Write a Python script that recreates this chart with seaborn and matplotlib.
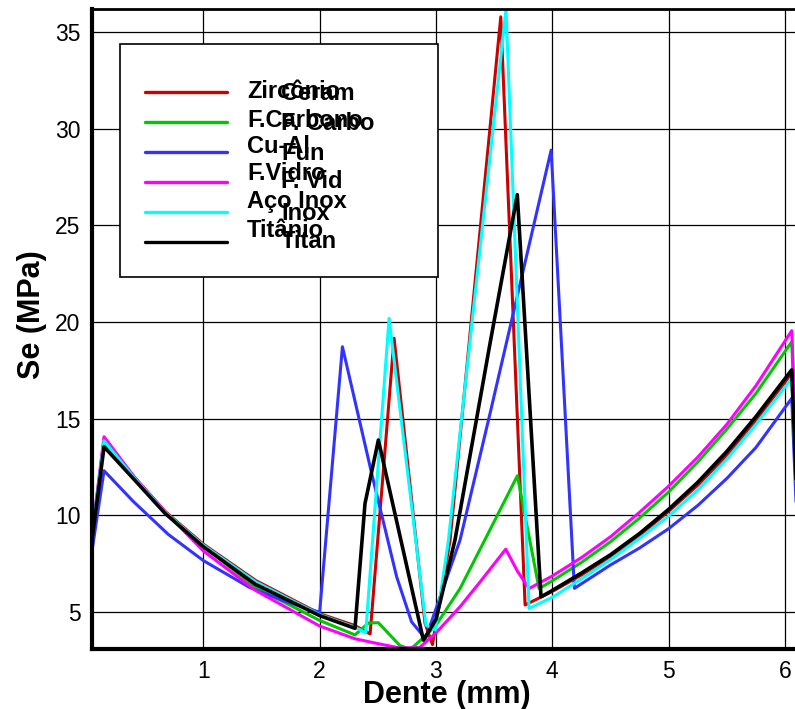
import matplotlib
matplotlib.use("Agg")
import matplotlib.pyplot as plt
from matplotlib.lines import Line2D
from matplotlib.patches import Rectangle
from matplotlib.ticker import MultipleLocator
import seaborn as sns
import pandas as pd

# ---------------- data ----------------
materials = ["Zircônio", "F.Carbono", "Cu-Al", "F.Vidro", "Aço Inox", "Titânio"]
overlay_labels = ["Ceram", "F. Carbo", "Fun", "F. Vid", "Inox", "Titan"]
colors = ["#cc0000", "#00c800", "#3333ff", "#ff00ff", "#00ffff", "#000000"]

x_zr = [0.04, 0.147, 0.41, 0.67, 1.0, 1.45, 2.0, 2.304, 2.434, 2.64, 2.906, 2.97,
        3.121, 3.557, 3.766, 3.9, 4.0, 4.25, 4.5, 4.75, 5.0, 5.25, 5.5, 5.75, 6.058, 6.1]
y_zr = [8.7, 13.9, 11.95, 10.2, 8.5, 6.62, 4.9, 4.28, 3.85, 19.16, 4.4, 3.3,
        8.7, 35.8, 5.35, 5.75, 6.05, 6.9, 7.85, 8.95, 10.2, 11.55, 13.1, 14.9, 17.35, 11.0]

x_cf = [0.04, 0.147, 0.41, 0.67, 1.0, 1.45, 2.0, 2.304, 2.42, 2.505, 2.69, 2.78,
        2.9, 3.0, 3.207, 3.465, 3.70, 3.886, 4.0, 4.25, 4.5, 4.75, 5.0, 5.25, 5.5,
        5.75, 6.058, 6.1]
y_cf = [8.7, 13.75, 11.9, 10.15, 8.4, 6.25, 4.55, 3.8, 4.42, 4.43, 3.25, 3.05,
        3.7, 4.3, 6.2, 9.25, 12.04, 6.2, 6.6, 7.55, 8.62, 9.85, 11.2, 12.75, 14.45,
        16.3, 18.98, 12.5]

x_cu = [0.04, 0.147, 0.4, 0.7, 1.0, 1.4, 1.7, 2.0, 2.196, 2.447, 2.662, 2.79,
        2.91, 3.207, 3.465, 3.99, 4.19, 4.5, 4.75, 5.0, 5.25, 5.5, 5.75, 6.058, 6.1]
y_cu = [8.0, 12.3, 10.7, 9.0, 7.65, 6.25, 5.55, 4.97, 18.72, 12.17, 6.81, 4.48,
        3.6, 8.71, 15.27, 28.9, 6.21, 7.42, 8.3, 9.3, 10.5, 11.9, 13.5, 16.05, 9.9]

x_fv = [0.04, 0.147, 0.41, 0.7, 1.0, 1.45, 2.0, 2.304, 2.5, 2.69, 2.86, 3.0,
        3.207, 3.38, 3.60, 3.70, 3.80, 4.0, 4.25, 4.5, 4.75, 5.0, 5.25, 5.5, 5.75,
        6.058, 6.1]
y_fv = [8.8, 14.06, 11.95, 10.0, 8.15, 6.1, 4.26, 3.6, 3.35, 3.12, 3.15, 3.9,
        5.26, 6.55, 8.24, 7.1, 6.2, 6.85, 7.8, 8.88, 10.15, 11.5, 13.0, 14.7, 16.7,
        19.55, 13.0]

x_ai = [0.04, 0.147, 0.41, 0.67, 1.0, 1.45, 2.0, 2.304, 2.396, 2.597, 2.914, 2.995,
        3.107, 3.602, 3.80, 4.0, 4.25, 4.5, 4.75, 5.0, 5.25, 5.5, 5.75, 6.058, 6.1]
y_ai = [8.7, 13.85, 11.9, 10.15, 8.45, 6.55, 4.85, 4.2, 3.9, 20.19, 4.3, 4.05,
        8.7, 36.2, 5.17, 5.75, 6.7, 7.7, 8.8, 9.95, 11.3, 12.9, 14.7, 17.08, 11.0]

x_ti = [0.04, 0.147, 0.41, 0.67, 1.0, 1.445, 2.0, 2.304, 2.39, 2.505, 2.892, 3.0,
        3.163, 3.465, 3.699, 3.903, 4.0, 4.25, 4.5, 4.75, 5.0, 5.25, 5.5, 5.75,
        6.058, 6.1]
y_ti = [8.55, 13.54, 11.82, 10.1, 8.37, 6.43, 4.8, 4.14, 10.6, 13.89, 3.53, 4.6,
        8.7, 18.9, 26.59, 5.77, 6.1, 7.0, 7.95, 9.05, 10.3, 11.7, 13.3, 15.1,
        17.52, 11.0]

x_ticks = [1, 2, 3, 4, 5, 6]
y_ticks = [5, 10, 15, 20, 25, 30, 35]

series_x = [x_zr, x_cf, x_cu, x_fv, x_ai, x_ti]
series_y = [y_zr, y_cf, y_cu, y_fv, y_ai, y_ti]

# ---------------- style ----------------
sns.set_style("white")
plt.rcParams["font.family"] = ["Liberation Sans", "DejaVu Sans"]
plt.rcParams["text.color"] = "black"
plt.rcParams["axes.labelcolor"] = "black"
plt.rcParams["xtick.color"] = "black"
plt.rcParams["ytick.color"] = "black"

fig = plt.figure(figsize=(7.95, 7.09), dpi=100)
ax = fig.add_axes([0.11535, 0.08463, 0.88465, 0.90226])

widths = [2.2, 2.2, 2.2, 2.2, 2.2, 2.6]
for name, xs, ys, c, lw in zip(materials, series_x, series_y, colors, widths):
    df = pd.DataFrame({"Dente": xs, "Se": ys})
    sns.lineplot(data=df, x="Dente", y="Se", sort=False, estimator=None,
                 color=c, linewidth=lw, ax=ax, legend=False)

ax.set_xlim(0.041, 6.086)
ax.set_ylim(3.07, 36.19)
ax.set_xticks(x_ticks)
ax.set_yticks(y_ticks)
ax.xaxis.set_minor_locator(MultipleLocator(0.2))
ax.yaxis.set_minor_locator(MultipleLocator(1))
ax.grid(True, which="major", color="black", linewidth=0.9)
ax.set_axisbelow(True)

ax.tick_params(which="major", direction="in", length=13, width=2.0,
               labelsize=16.5, pad=8, colors="black", labelcolor="black",
               top=False, right=False)
ax.tick_params(which="minor", direction="in", length=7, width=1.0,
               colors="black", top=False, right=False)

for side in ["left", "bottom"]:
    ax.spines[side].set_linewidth(3.0)
    ax.spines[side].set_color("black")
ax.spines["top"].set_linewidth(2.0)
ax.spines["top"].set_color("black")
ax.spines["right"].set_visible(False)

ax.set_xlabel("Dente (mm)", fontsize=22, fontweight="bold", color="black")
ax.set_ylabel("Se (MPa)", fontsize=22, fontweight="bold", color="black")
ax.xaxis.set_label_coords(0.5045, -0.048)
ax.yaxis.set_label_coords(-0.064, 0.522)

# ---------------- legend box (Tecplot style) ----------------
ax.add_patch(Rectangle((0.0402, 0.5815), 0.4522, 0.3643, transform=ax.transAxes,
                       facecolor="white", edgecolor="black", linewidth=1.2,
                       zorder=5))
handle_y = [0.8707, 0.8238, 0.7769, 0.7300, 0.6831, 0.6362]
label_base = [0.8609, 0.8165, 0.7749, 0.7332, 0.6889, 0.6445]
over_base = [0.8582, 0.8113, 0.7644, 0.7202, 0.6706, 0.6264]
for i, (lab, olab, c) in enumerate(zip(materials, overlay_labels, colors)):
    ax.add_artist(Line2D([0.0758, 0.1925], [handle_y[i], handle_y[i]],
                         transform=ax.transAxes, color=c, linewidth=2.4,
                         zorder=6))
    ax.text(0.2208, label_base[i], lab, transform=ax.transAxes, fontsize=17,
            fontweight="bold", va="baseline", ha="left", color="black", zorder=7)
    ax.text(0.2692, over_base[i], olab, transform=ax.transAxes, fontsize=17,
            fontweight="bold", va="baseline", ha="left", color="black", zorder=7)

fig.savefig("out.png", dpi=100)
